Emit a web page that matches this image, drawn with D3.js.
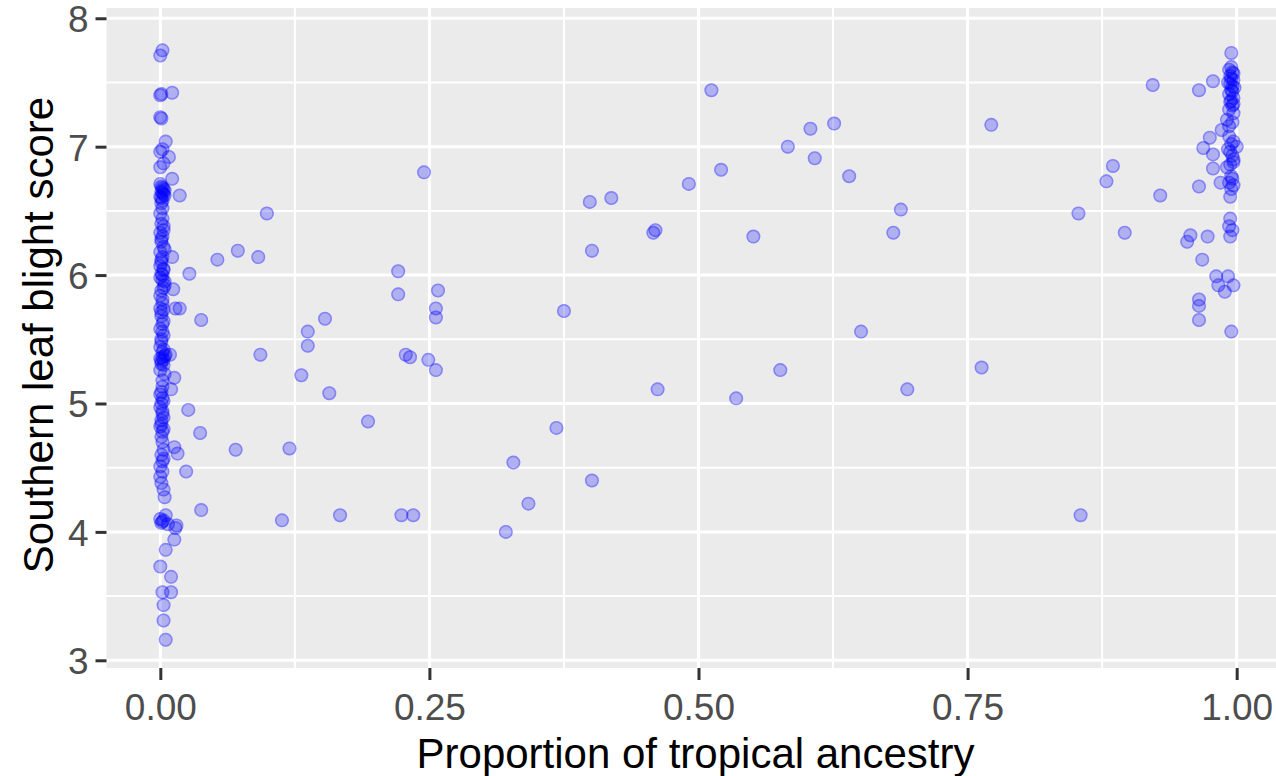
<!DOCTYPE html>
<html>
<head>
<meta charset="utf-8">
<script src="https://cdn.jsdelivr.net/npm/d3@7"></script>
<style>
html,body{margin:0;padding:0;background:#fff;overflow:hidden;}
svg{display:block;font-family:"Liberation Sans",Arial,sans-serif;}
</style>
</head>
<body>
<svg id="chart" width="1276" height="776"></svg>
<script>
// ---- Data: [proportion of tropical ancestry, southern leaf blight score] ----
const temperateLines = [
[0.000,7.71],[0.002,7.75],[0.000,7.40],[0.001,7.41],[0.011,7.42],[0.000,7.23],[0.001,7.22],
[0.005,7.04],[0.002,6.98],[0.000,6.96],[0.008,6.92],[0.003,6.87],[0.000,6.84],[0.011,6.75],
[0.000,6.71],[0.002,6.68],[0.001,6.65],[0.003,6.63],[0.000,6.61],[0.002,6.58],[0.001,6.56],[0.018,6.62],[0.004,6.66],
[0.000,6.48],[0.002,6.44],[0.001,6.40],[0.003,6.35],[0.000,6.33],[0.002,6.30],[0.001,6.26],[0.003,6.22],[0.000,6.18],
[0.002,6.14],[0.011,6.14],[0.001,6.10],[0.000,6.07],[0.003,6.04],[0.001,6.01],[0.000,5.98],[0.002,5.96],[0.004,5.92],
[0.012,5.89],[0.001,5.88],[0.000,5.84],[0.002,5.81],[0.000,5.74],[0.003,5.73],[0.014,5.74],[0.018,5.74],[0.001,5.68],
[0.002,5.62],[0.000,5.58],[0.003,5.53],[0.001,5.48],[0.000,5.44],[0.002,5.40],[0.004,5.37],[0.000,5.35],[0.001,5.33],
[0.009,5.38],[0.003,5.30],[0.000,5.26],[0.013,5.20],[0.002,5.18],[0.010,5.11],[0.000,5.07],[0.002,5.04],[0.001,5.00],
[0.000,4.97],[0.002,4.92],[0.001,4.87],[0.000,4.82],[0.002,4.78],[0.001,4.74],[0.013,4.66],[0.016,4.61],[0.003,4.64],
[0.001,4.60],[0.002,4.55],[0.000,4.51],[0.000,4.43],[0.001,4.38],[0.003,4.33],[0.004,4.27],[0.005,4.13],[0.000,4.10],
[0.002,4.08],[0.007,4.06],[0.014,4.03],[0.015,4.05],[0.013,3.94],[0.005,3.86],[0.000,3.73],[0.010,3.65],[0.010,3.53],
[0.002,3.53],[0.003,3.43],[0.003,3.31],[0.005,3.16],
[0.001,6.69],[0.003,6.67],[0.002,6.64],[0.004,6.62],[0.001,6.60],[0.002,6.52],[0.003,6.38],[0.001,6.28],[0.004,6.20],
[0.001,6.12],[0.003,6.05],[0.002,6.00],[0.004,5.95],[0.003,5.90],[0.002,5.78],[0.001,5.71],[0.003,5.64],[0.002,5.56],
[0.001,5.50],[0.003,5.42],[0.005,5.38],[0.002,5.36],[0.003,5.34],[0.001,5.31],[0.004,5.23],[0.002,5.13],[0.001,5.09],
[0.003,5.02],[0.002,4.94],[0.003,4.89],[0.001,4.84],[0.003,4.80],[0.002,4.70],[0.003,4.57],[0.002,4.47],[0.003,4.09],
[0.001,4.07],
[0.027,6.01],[0.026,4.95],[0.037,4.77],[0.038,5.65],[0.038,4.17],[0.024,4.47]
];
const admixedLines = [
[0.053,6.12],[0.072,6.19],[0.070,4.64],[0.091,6.14],[0.093,5.38],[0.099,6.48],[0.113,4.09],[0.120,4.65],
[0.131,5.22],[0.137,5.56],[0.137,5.45],[0.153,5.66],[0.157,5.08],[0.167,4.13],[0.193,4.86],[0.221,6.03],
[0.221,5.85],[0.224,4.13],[0.228,5.38],[0.232,5.36],[0.235,4.13],[0.245,6.80],[0.249,5.34],[0.256,5.74],
[0.256,5.67],[0.258,5.88],[0.256,5.26],[0.321,4.00],[0.328,4.54],[0.342,4.22],[0.368,4.81],[0.375,5.72],
[0.399,6.57],[0.401,6.19],[0.401,4.40],[0.419,6.60],[0.458,6.33],[0.460,6.35],[0.462,5.11],[0.491,6.71],
[0.512,7.44],[0.521,6.82],[0.535,5.04],[0.551,6.30],[0.576,5.26],[0.583,7.00],[0.604,7.14],[0.608,6.91],
[0.626,7.18],[0.640,6.77],[0.651,5.56],[0.681,6.33],[0.688,6.51],[0.694,5.11],[0.763,5.28],[0.772,7.17],
[0.853,6.48],[0.855,4.13],[0.879,6.73],[0.885,6.85],[0.896,6.33],[0.922,7.48],[0.929,6.62]
];
const tropicalLines = [
[0.995,7.73],[0.965,7.44],[0.978,7.51],
[0.993,7.60],[0.996,7.58],[0.994,7.55],[0.997,7.52],[0.992,7.50],[0.996,7.47],[0.995,7.44],[0.993,7.41],
[0.997,7.38],[0.994,7.35],[0.996,7.32],[0.993,7.29],[0.997,7.26],
[0.991,7.21],[0.996,7.19],[0.993,7.16],[0.986,7.13],[0.975,7.07],[0.969,6.99],[0.978,6.94],[0.978,6.83],
[0.965,6.69],[0.985,6.72],
[0.993,7.08],[0.997,7.04],[0.992,6.98],[0.996,6.93],[0.991,6.84],[0.995,6.77],[0.993,6.72],[0.995,6.67],
[0.997,6.88],[1.000,7.00],[0.994,6.61],
[0.995,7.62],[0.997,7.57],[0.995,7.53],[0.994,7.49],[0.998,7.46],[0.996,7.43],[0.995,7.36],[0.997,7.33],
[0.995,7.02],[0.994,6.96],[0.997,6.90],[0.994,6.86],[0.996,6.75],[0.997,6.70],
[0.994,6.44],[0.993,6.38],[0.996,6.35],[0.994,6.30],[0.957,6.31],[0.954,6.26],[0.973,6.30],[0.968,6.12],
[0.981,5.99],[0.992,5.99],[0.983,5.92],[0.989,5.87],[0.997,5.92],[0.965,5.81],[0.965,5.76],[0.965,5.65],
[0.995,5.56]
];
const xTicks = [0, 0.25, 0.5, 0.75, 1];
const xTickLabels = ["0.00", "0.25", "0.50", "0.75", "1.00"];
const xMinor = [0.125, 0.375, 0.625, 0.875];
const yTicks = [3, 4, 5, 6, 7, 8];
const yMinor = [3.5, 4.5, 5.5, 6.5, 7.5];
const xTitle = "Proportion of tropical ancestry";
const yTitle = "Southern leaf blight score";

// ---- Layout ----
const svg = d3.select("#chart");
const P = {left: 106.5, right: 1290.5, top: 8, bottom: 668};
const x = d3.scaleLinear().domain([-0.05, 1.05]).range([P.left, P.right]);
const y = d3.scaleLinear().domain([2.94, 8.08]).range([P.bottom, P.top]);

// panel background
svg.append("rect").attr("x", P.left).attr("y", P.top)
  .attr("width", P.right - P.left).attr("height", P.bottom - P.top).attr("fill", "#EBEBEB");

const grid = svg.append("g");
// minor grid
grid.selectAll(".xm").data(xMinor).join("line").attr("class","xm")
  .attr("x1", d => x(d)).attr("x2", d => x(d)).attr("y1", P.top).attr("y2", P.bottom)
  .attr("stroke", "#fff").attr("stroke-width", 2);
grid.selectAll(".ym").data(yMinor).join("line").attr("class","ym")
  .attr("y1", d => y(d)).attr("y2", d => y(d)).attr("x1", P.left).attr("x2", P.right)
  .attr("stroke", "#fff").attr("stroke-width", 2);
// major grid
grid.selectAll(".xM").data(xTicks).join("line").attr("class","xM")
  .attr("x1", d => x(d)).attr("x2", d => x(d)).attr("y1", P.top).attr("y2", P.bottom)
  .attr("stroke", "#fff").attr("stroke-width", 3);
grid.selectAll(".yM").data(yTicks).join("line").attr("class","yM")
  .attr("y1", d => y(d)).attr("y2", d => y(d)).attr("x1", P.left).attr("x2", P.right)
  .attr("stroke", "#fff").attr("stroke-width", 3);

// points
const allPoints = temperateLines.concat(admixedLines, tropicalLines);
const pts = svg.append("g");
pts.selectAll("circle.f").data(allPoints).join("circle").attr("class","f")
  .attr("cx", d => x(d[0])).attr("cy", d => y(d[1])).attr("r", 7)
  .attr("fill", "blue").attr("fill-opacity", 0.25);
pts.selectAll("circle.s").data(allPoints).join("circle").attr("class","s")
  .attr("cx", d => x(d[0])).attr("cy", d => y(d[1])).attr("r", 6.2)
  .attr("fill", "none").attr("stroke", "blue").attr("stroke-opacity", 0.25).attr("stroke-width", 1.6);

// axes
const xAxis = d3.axisBottom(x).tickValues(xTicks)
  .tickFormat((d, i) => xTickLabels[i]).tickSize(12).tickPadding(6);
const gx = svg.append("g").attr("transform", `translate(0,${P.bottom})`).call(xAxis);
gx.select(".domain").remove();
gx.selectAll(".tick line").attr("stroke", "#333333").attr("stroke-width", 3);
gx.selectAll(".tick text").attr("fill", "#4D4D4D").attr("font-size", 37)
  .attr("font-family", "Liberation Sans, Arial, sans-serif").attr("dy", null).attr("y", 52);

const yAxis = d3.axisLeft(y).tickValues(yTicks).tickFormat(d3.format("d")).tickSize(11).tickPadding(8);
const gy = svg.append("g").attr("transform", `translate(${P.left},0)`).call(yAxis);
gy.select(".domain").remove();
gy.selectAll(".tick line").attr("stroke", "#333333").attr("stroke-width", 3);
gy.selectAll(".tick text").attr("fill", "#4D4D4D").attr("font-size", 37)
  .attr("font-family", "Liberation Sans, Arial, sans-serif").attr("x", -18).attr("dy", "0.36em");

// titles
svg.append("text").attr("x", (P.left + P.right) / 2 - 3).attr("y", 768)
  .attr("text-anchor", "middle").attr("font-size", 42).attr("fill", "#000").text(xTitle);
svg.append("text").attr("transform", `translate(53,${(P.top + P.bottom) / 2 - 3}) rotate(-90)`)
  .attr("text-anchor", "middle").attr("font-size", 42).attr("fill", "#000").text(yTitle);
</script>
</body>
</html>
